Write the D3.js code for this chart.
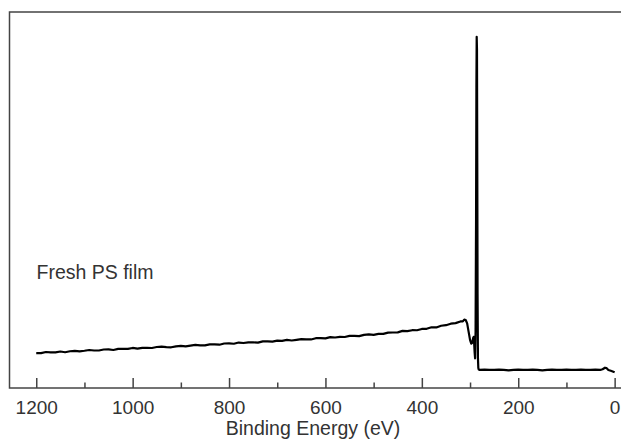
<!DOCTYPE html>
<html>
<head>
<meta charset="UTF-8">
<title>Fresh PS film - XPS survey</title>
<style>
  body { margin: 0; background: #fff; }
  svg { display: block; font-family: "Liberation Sans", Arial, Helvetica, sans-serif; }
</style>
</head>
<body>
<script src="https://d3js.org/d3.v7.min.js"></script>
<script>
// survey spectrum, binding energy (eV) and intensity (a.u.)
var energy = [
  1200,1190,1180,1170,1160,1150,1140,1130,1120,1110,
  1100,1090,1080,1070,1060,1050,1040,1030,1020,1010,
  1000,990,980,970,960,950,940,930,920,910,
  900,890,880,870,860,850,840,830,820,810,
  800,790,780,770,760,750,740,730,720,710,
  700,690,680,670,660,650,640,630,620,610,
  600,590,580,570,560,550,540,530,520,510,
  500,490,480,470,460,450,440,430,420,410,
  400,390,380,370,360,350,340,330,320,
  315,312,309,306,303,300,297.5,295.5,293.5,292.5,291.5,290.5,289.5,
  288.5,287.5,286.8,286.2,285.6,285.0,284.4,283.6,282.8,282,
  280,270,260,250,240,230,220,210,200,190,180,170,160,150,140,130,120,110,100,90,80,70,60,50,40,30,
  25,20,17,13,8,4,0
];
var intensity = [
  9.30,9.26,9.57,9.48,9.49,9.70,9.51,9.77,9.88,9.74,
  9.90,10.11,9.97,9.98,10.24,10.25,10.11,10.42,10.38,10.39,
  10.65,10.46,10.67,10.68,10.64,10.90,11.01,10.87,10.83,11.09,
  11.20,11.07,11.29,11.46,11.33,11.35,11.62,11.59,11.51,11.83,
  11.85,11.77,12.09,11.96,12.13,12.15,12.07,12.39,12.41,12.33,
  12.60,12.53,12.81,12.64,12.82,13.00,12.93,12.91,13.24,13.27,
  13.20,13.54,13.43,13.62,13.56,13.85,13.84,13.78,14.12,14.26,
  14.15,14.39,14.38,14.72,14.76,14.80,15.19,15.13,15.37,15.36,
  15.70,15.75,16.15,16.10,16.55,16.70,17.10,17.25,17.70,
  17.7,18.2,18.1,17.2,15.0,12.8,11.8,12.0,13.3,13.6,12.0,9.5,7.9,
  15,45,80,93.4,90,60,25,8,5.3,4.9,
  4.8,4.9,4.8,4.8,4.9,4.8,4.7,4.8,4.9,4.8,4.8,4.9,4.8,4.7,4.8,4.9,4.8,4.8,4.9,4.8,4.8,4.9,4.8,4.8,4.9,4.8,
  5.0,5.4,5.3,4.8,4.6,4.4,4.2
];
var majorTicks = [1200, 1000, 800, 600, 400, 200, 0];
var minorTicks = [1100, 900, 700, 500, 300, 100];
var xTitle = "Binding Energy (eV)";
var sampleLabel = "Fresh PS film";

var W = 621, H = 441;
var plot = { left: 9.5, right: 625, top: 12, bottom: 388 };

var svg = d3.select("body").append("svg")
    .attr("width", W)
    .attr("height", H);

var x = d3.scaleLinear().domain([1255.5, -21.5]).range([plot.left, plot.right]);
var y = d3.scaleLinear().domain([0, 100]).range([plot.bottom, plot.top]);

// frame
svg.append("rect")
    .attr("x", plot.left).attr("y", plot.top)
    .attr("width", plot.right - plot.left).attr("height", plot.bottom - plot.top)
    .attr("fill", "none")
    .attr("stroke", "#444")
    .attr("stroke-width", 1.5);

// major ticks (inward) with labels
var gMajor = svg.append("g")
    .attr("transform", "translate(0," + plot.bottom + ")")
    .call(d3.axisBottom(x).tickValues(majorTicks).tickSizeInner(-10).tickSizeOuter(0).tickPadding(13)
      .tickFormat(d3.format("d")));
gMajor.select(".domain").remove();
gMajor.selectAll(".tick line").attr("stroke", "#444").attr("stroke-width", 1.5);
gMajor.selectAll(".tick text")
    .attr("fill", "#333")
    .attr("font-size", 19)
    .attr("font-family", "'Liberation Sans', Arial, sans-serif");

// minor ticks
var gMinor = svg.append("g")
    .attr("transform", "translate(0," + plot.bottom + ")")
    .call(d3.axisBottom(x).tickValues(minorTicks).tickSizeInner(-5.5).tickSizeOuter(0).tickFormat(""));
gMinor.select(".domain").remove();
gMinor.selectAll(".tick line").attr("stroke", "#444").attr("stroke-width", 1.5);

// axis title
svg.append("text")
    .attr("x", 313)
    .attr("y", 435)
    .attr("text-anchor", "middle")
    .attr("fill", "#333")
    .attr("font-size", 19.5)
    .text(xTitle);

// sample label
svg.append("text")
    .attr("x", 36.5)
    .attr("y", 279)
    .attr("fill", "#333")
    .attr("font-size", 19.5)
    .text(sampleLabel);

// spectrum
var pts = energy.map(function(e, i) { return [e, intensity[i]]; });
var line = d3.line()
    .x(function(d) { return x(d[0]); })
    .y(function(d) { return y(d[1]); });

svg.append("path")
    .datum(pts)
    .attr("fill", "none")
    .attr("stroke", "#000")
    .attr("stroke-width", 2.2)
    .attr("stroke-linejoin", "round")
    .attr("d", line);
</script>
</body>
</html>
